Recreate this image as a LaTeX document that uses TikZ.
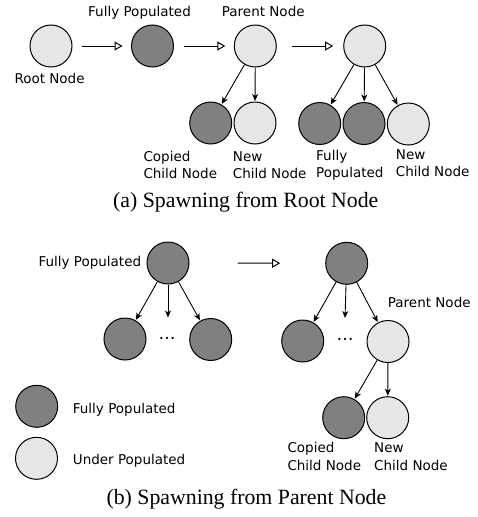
\documentclass[tikz,border=0pt]{standalone}
\usepackage{fontspec}
\setmainfont{Liberation Serif}
\newfontfamily\lblfont{DejaVu Sans}
\usetikzlibrary{arrows.meta}
\definecolor{darkfill}{HTML}{808080}
\definecolor{lightfill}{HTML}{E6E6E6}
\begin{document}
\begin{tikzpicture}[x=1pt,y=-1pt,
  nd/.style={circle,draw=black,line width=1pt,minimum size=42pt,inner sep=0pt},
  full/.style={nd,fill=darkfill},
  under/.style={nd,fill=lightfill},
  lbl/.style={font=\lblfont\fontsize{13.5}{17.2}\selectfont,inner sep=0pt,align=left,anchor=base west},
  captext/.style={font=\fontsize{21.8}{26}\selectfont,inner sep=0pt,anchor=base},
  dotsnode/.style={font=\lblfont\fontsize{17}{20}\selectfont,inner sep=0pt,anchor=base},
  steparrow/.style={line width=1pt,-{Triangle[open,length=8pt,width=9pt,line width=1pt]}},
  childarrow/.style={line width=0.9pt,-{Stealth[length=7pt,width=6pt,inset=2pt]},shorten >=0.5pt}
]
\useasboundingbox (0,0) rectangle (477,517);

% ---------- (a) ----------
\node[under] (root) at (51,46) {};
\node[full]  (fp)   at (152.5,46) {};
\node[under] (par)  at (255.3,46) {};
\node[full]  (cc)   at (210.7,123) {};
\node[under] (nc)   at (255,123) {};
\node[under] (par2) at (364.7,46) {};
\node[full]  (d1)   at (319.7,123.5) {};
\node[full]  (d2)   at (364,123.5) {};
\node[under] (l3)   at (408.3,124) {};

\draw[steparrow,shorten <=9pt,shorten >=8.5pt] (root) -- (fp);
\draw[steparrow,shorten <=10pt,shorten >=8.5pt] (fp) -- (par);
\draw[steparrow,shorten <=15pt,shorten >=10pt] (par) -- (par2);

\draw[childarrow] (par) -- (cc);
\draw[childarrow] (par) -- (nc);
\draw[childarrow] (par2) -- (d1);
\draw[childarrow] (par2) -- (d2);
\draw[childarrow] (par2) -- (l3);

% two-line labels: anchor base is the baseline of the last line
\node[lbl] (lroot) at (14.3,83.3) {Root Node};
\node[lbl] (lfp)   at (88,16.5) {Fully Populated};
\node[lbl] (lpar)  at (221.7,16.8) {Parent Node};
\node[lbl] (lcc)   at (143.3,178.2) {Copied\\Child Node};
\node[lbl] (lnc)   at (232.7,178.2) {New\\Child Node};
\node[lbl] (lfp2)  at (316,177.9) {Fully\\Populated};
\node[lbl] (lnc2)  at (395.7,176.5) {New\\Child Node};

\node[captext] (capa) at (245.8,207) {(a) Spawning from Root Node};

% ---------- (b) ----------
\node[full]  (t1) at (168,263) {};
\node[full]  (c1) at (125,339) {};
\node[full]  (c2) at (210.7,339.5) {};
\coordinate (m1) at (168,318);
\node[dotsnode] (dots1) at (167,339.5) {…};

\node[full]  (t2) at (346.7,263.3) {};
\node[full]  (c3) at (302.7,341) {};
\node[under] (pn) at (388,341.5) {};
\coordinate (m2) at (345,318.5);
\node[dotsnode] (dots2) at (345,340.5) {…};
\node[full]  (g1) at (343.7,417.7) {};
\node[under] (g2) at (387.7,417.7) {};

\draw[steparrow,shorten <=48pt,shorten >=45pt] (t1) -- (t2);

\draw[childarrow] (t1) -- (c1);
\draw[childarrow] (t1) -- (m1);
\draw[childarrow] (t1) -- (c2);
\draw[childarrow] (t2) -- (c3);
\draw[childarrow] (t2) -- (m2);
\draw[childarrow] (t2) -- (pn);
\draw[childarrow] (pn) -- (g1);
\draw[childarrow] (pn) -- (g2);

\node[lbl] (lt1) at (38.3,266.7) {Fully Populated};
\node[lbl] (lpn) at (387.7,307.3) {Parent Node};
\node[lbl] (lg1) at (287.3,470) {Copied\\Child Node};
\node[lbl] (lg2) at (374,470) {New\\Child Node};

% legend
\node[full]  (leg1) at (36.7,406.3) {};
\node[under] (leg2) at (36.5,458.3) {};
\node[lbl] (lleg1) at (72.7,413.3) {Fully Populated};
\node[lbl] (lleg2) at (72.7,464.3) {Under Populated};

\node[captext] (capb) at (246.4,504) {(b) Spawning from Parent Node};
\end{tikzpicture}
\end{document}
